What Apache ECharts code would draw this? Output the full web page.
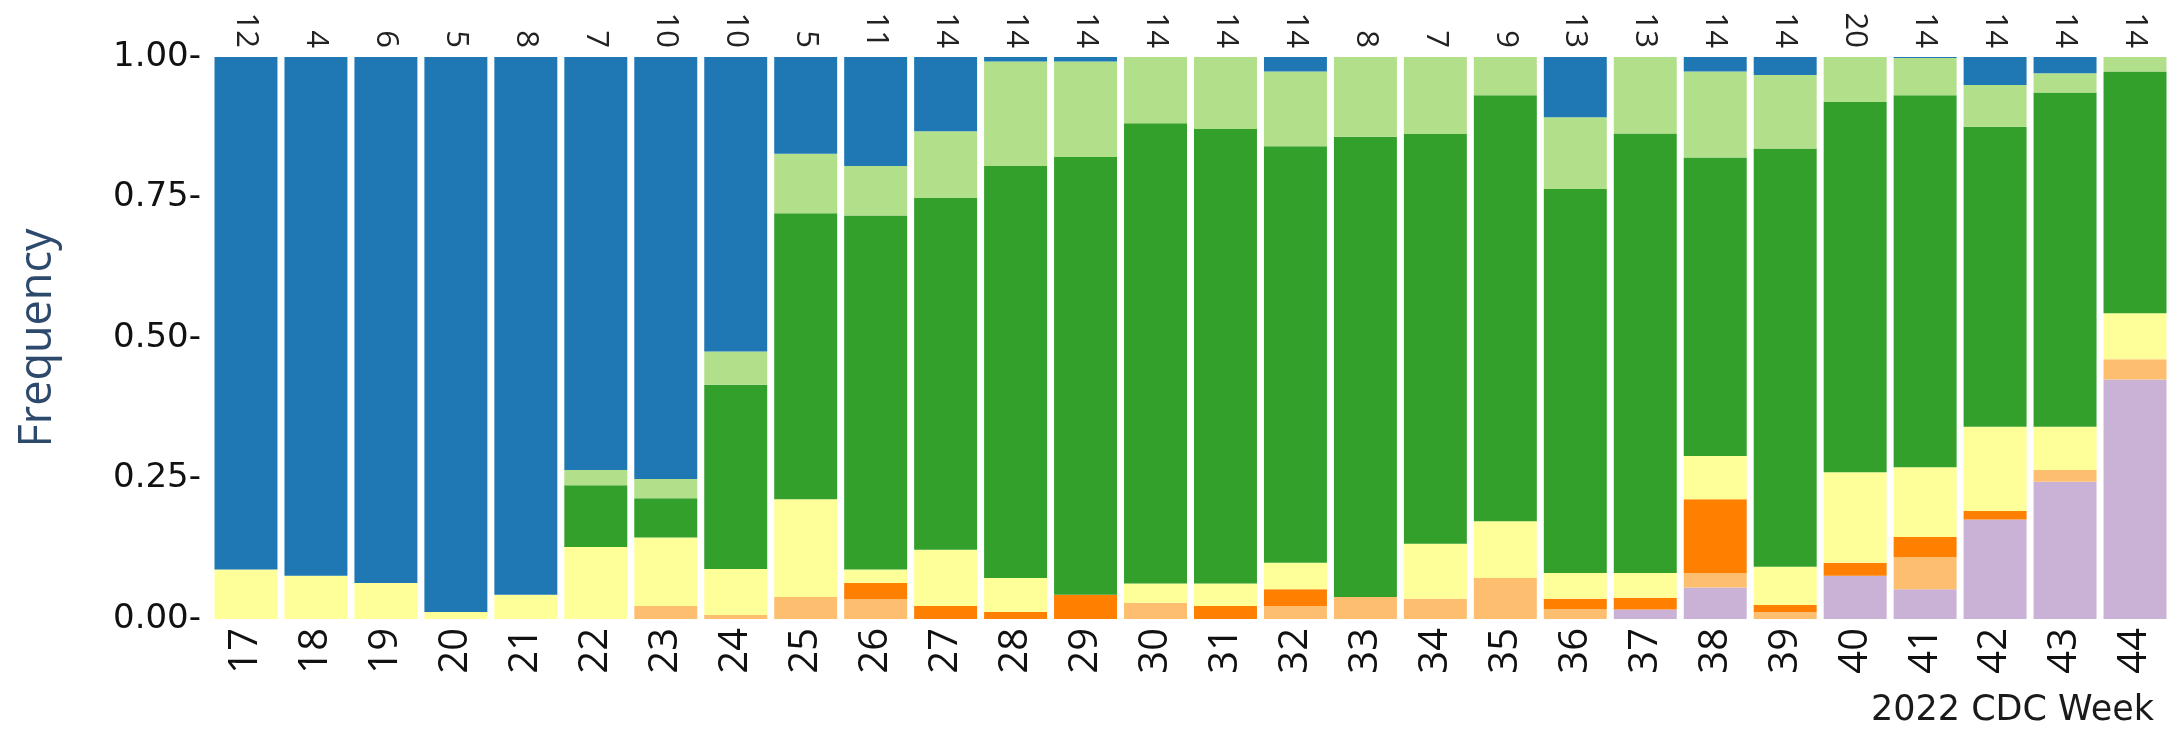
<!DOCTYPE html>
<html>
<head>
<meta charset="utf-8">
<script src="https://cdn.jsdelivr.net/npm/echarts@6/dist/echarts.min.js"></script>
<style>html,body{margin:0;padding:0;background:#fff}#c{width:2171px;height:735px}</style>
</head>
<body>
<div id="c"></div>
<script>
const weeks = ['17','18','19','20','21','22','23','24','25','26','27','28','29','30','31','32','33','34','35','36','37','38','39','40','41','42','43','44'];
const counts = ['12','4','6','5','8','7','10','10','5','11','14','14','14','14','14','14','8','7','9','13','13','14','14','20','14','14','14','14'];
const yTicks = [0, 0.25, 0.5, 0.75, 1];
// stacked shares, bottom to top
const purple      = [0,0,0,0,0,0,0,0,0,0,0,0,0,0,0,0,0,0,0,0,0.017,0.056,0,0.077,0.053,0.177,0.244,0.426];
const lightOrange = [0,0,0,0,0,0,0.023,0.007,0.039,0.035,0,0,0,0.029,0,0.023,0.039,0.036,0.073,0.018,0,0.026,0.0125,0,0.057,0,0.021,0.036];
const orange      = [0,0,0,0,0,0,0,0,0,0.029,0.023,0.0125,0.043,0,0.023,0.030,0,0,0,0.018,0.021,0.131,0.0125,0.023,0.036,0.015,0,0];
const yellow      = [0.088,0.077,0.064,0.0125,0.043,0.128,0.122,0.082,0.174,0.024,0.100,0.0605,0,0.034,0.040,0.047,0,0.098,0.101,0.046,0.044,0.077,0.068,0.161,0.124,0.150,0.077,0.082];
const darkGreen   = [0,0,0,0,0,0.110,0.070,0.328,0.509,0.630,0.626,0.733,0.779,0.819,0.809,0.741,0.819,0.729,0.758,0.683,0.782,0.531,0.744,0.659,0.662,0.534,0.595,0.430];
const lightGreen  = [0,0,0,0,0,0.027,0.034,0.059,0.106,0.088,0.119,0.186,0.170,0.118,0.128,0.133,0.142,0.137,0.068,0.128,0.136,0.153,0.131,0.080,0.066,0.074,0.034,0.026];
const blue        = [0.912,0.923,0.936,0.9875,0.957,0.735,0.751,0.524,0.172,0.194,0.132,0.008,0.008,0,0,0.026,0,0,0,0.107,0,0.026,0.032,0,0.002,0.050,0.029,0];

const seriesDefs = [
  ['purple', purple, '#cab2d6'],
  ['lightOrange', lightOrange, '#fdbf6f'],
  ['orange', orange, '#ff7f00'],
  ['yellow', yellow, '#ffff99'],
  ['darkGreen', darkGreen, '#33a02c'],
  ['lightGreen', lightGreen, '#b2df8a'],
  ['blue', blue, '#1f78b4']
];

const chart = echarts.init(document.getElementById('c'), null, {renderer: 'canvas'});
chart.setOption({
  backgroundColor: '#ffffff',
  animation: false,
  title: {
    text: '2022 CDC Week', right: 12, bottom: 2,
    textStyle: {fontFamily: 'DejaVu Sans', fontSize: 35, fontWeight: 'normal', color: '#1a1a1a'}
  },
  grid: {left: 211, right: 1, top: 57, bottom: 116, containLabel: false},
  xAxis: [{
    type: 'category', data: weeks, position: 'bottom',
    axisLine: {show: false}, axisTick: {show: false},
    axisLabel: {rotate: 90, margin: 9, fontFamily: 'Open Sans', fontSize: 40, color: '#111'}
  }, {
    type: 'category', data: counts, position: 'top',
    axisLine: {show: false}, axisTick: {show: false},
    axisLabel: {rotate: 90, margin: 9, fontFamily: 'Open Sans', fontSize: 31, color: '#222'}
  }],
  yAxis: {
    type: 'value', min: 0, max: 1, interval: 0.25,
    name: 'Frequency', nameLocation: 'middle', nameRotate: 90, nameGap: 150,
    nameTextStyle: {fontFamily: 'Open Sans', fontSize: 45, color: '#2d4a6d'},
    axisLine: {show: false}, axisTick: {show: false}, splitLine: {show: false},
    axisLabel: {margin: 10, fontFamily: 'DejaVu Sans', fontSize: 34, color: '#111',
      formatter: v => (yTicks.indexOf(v) >= 0 ? v.toFixed(2) + '-' : '')}
  },
  series: seriesDefs.map(([name, data, color]) => ({
    name, type: 'bar', stack: 'total', data, xAxisIndex: 0,
    barCategoryGap: '10%',
    itemStyle: {color},
    emphasis: {disabled: true}
  }))
});
</script>
</body>
</html>
